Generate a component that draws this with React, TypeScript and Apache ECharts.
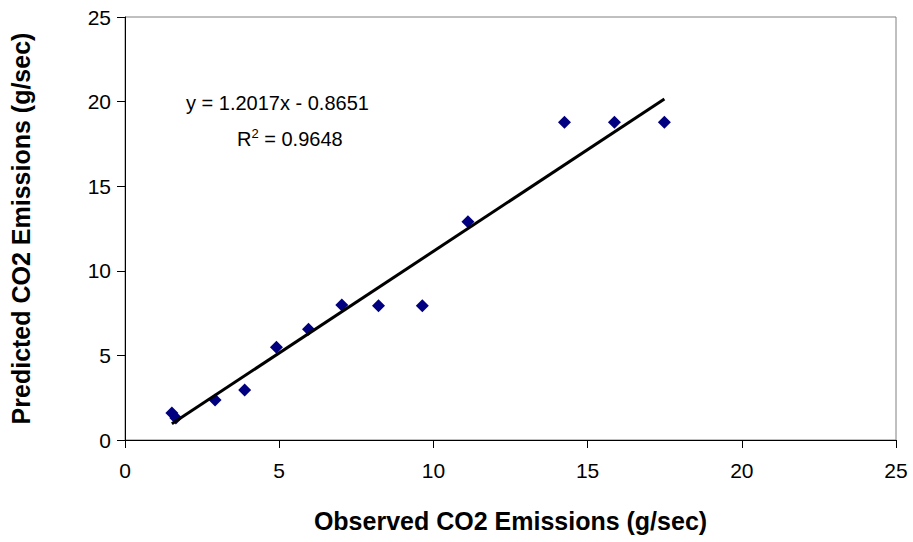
import React, { useEffect, useRef } from "react";
import * as echarts from "echarts";

const observed = [1.52, 1.65, 2.92, 3.88, 4.91, 5.95, 7.03, 8.22, 9.64, 11.12, 14.25, 15.87, 17.49];
const predicted = [1.6, 1.3, 2.36, 2.96, 5.48, 6.55, 7.98, 7.94, 7.94, 12.9, 18.78, 18.78, 18.78];
const slope = 1.2017;
const intercept = -0.8651;
const rSquared = 0.9648;
const axisTicks = [0, 5, 10, 15, 20, 25];
const xTitle = "Observed CO2 Emissions (g/sec)";
const yTitle = "Predicted CO2 Emissions (g/sec)";

export default function App() {
  const ref = useRef<HTMLDivElement>(null);
  useEffect(() => {
    if (!ref.current) return;
    const chart = echarts.init(ref.current, undefined, { renderer: "svg" });
    const points = observed.map((x, i) => [x, predicted[i]]);
    const xMin = Math.min(...observed);
    const xMax = Math.max(...observed);
    const trend = [
      [xMin, slope * xMin + intercept],
      [xMax, slope * xMax + intercept],
    ];
    const font = "Liberation Sans, Arial, sans-serif";
    const axisCommon = {
      min: axisTicks[0],
      max: axisTicks[axisTicks.length - 1],
      interval: 5,
      splitLine: { show: false },
      axisLine: { show: true, onZero: false, lineStyle: { color: "#000", width: 1 } },
      axisTick: { show: true, inside: false, length: 8, lineStyle: { color: "#000" } },
      axisLabel: { color: "#000", fontSize: 21, fontFamily: font },
      nameTextStyle: { color: "#000", fontSize: 25, fontWeight: "bold", fontFamily: font },
      nameLocation: "middle" as const,
    };
    chart.setOption({
      animation: false,
      backgroundColor: "#fff",
      grid: {
        left: 124,
        right: 17,
        top: 17,
        bottom: 102,
        show: true,
        borderColor: "#808080",
        borderWidth: 1,
        backgroundColor: "transparent",
      },
      xAxis: {
        type: "value",
        ...axisCommon,
        name: xTitle,
        nameGap: 68,
        axisLabel: { ...axisCommon.axisLabel, margin: 20 },
      },
      yAxis: {
        type: "value",
        ...axisCommon,
        name: yTitle,
        nameGap: 92,
        axisLabel: { ...axisCommon.axisLabel, margin: 14 },
      },
      series: [
        {
          type: "line",
          data: trend,
          symbol: "none",
          lineStyle: { color: "#000", width: 3 },
          z: 3,
        },
        {
          type: "scatter",
          data: points,
          symbol: "diamond",
          symbolSize: 13,
          itemStyle: { color: "#000080", opacity: 1 },
          z: 2,
        },
      ],
      graphic: [
        {
          type: "text",
          left: 186,
          top: 93,
          style: {
            text: `y = ${slope}x - ${Math.abs(intercept)}`,
            fill: "#000",
            fontSize: 20,
            fontFamily: font,
          },
        },
        {
          type: "text",
          left: 237,
          top: 127,
          style: {
            text: `R{sup|2} = ${rSquared}`,
            fill: "#000",
            fontSize: 20,
            fontFamily: font,
            rich: {
              sup: { fontSize: 13, fontFamily: font, fill: "#000", verticalAlign: "top", padding: [0, 0, 10, 0] },
            },
          },
        },
      ],
    });
    return () => chart.dispose();
  }, []);
  return <div ref={ref} style={{ width: 913, height: 542, position: "absolute", left: 0, top: 0 }} />;
}
